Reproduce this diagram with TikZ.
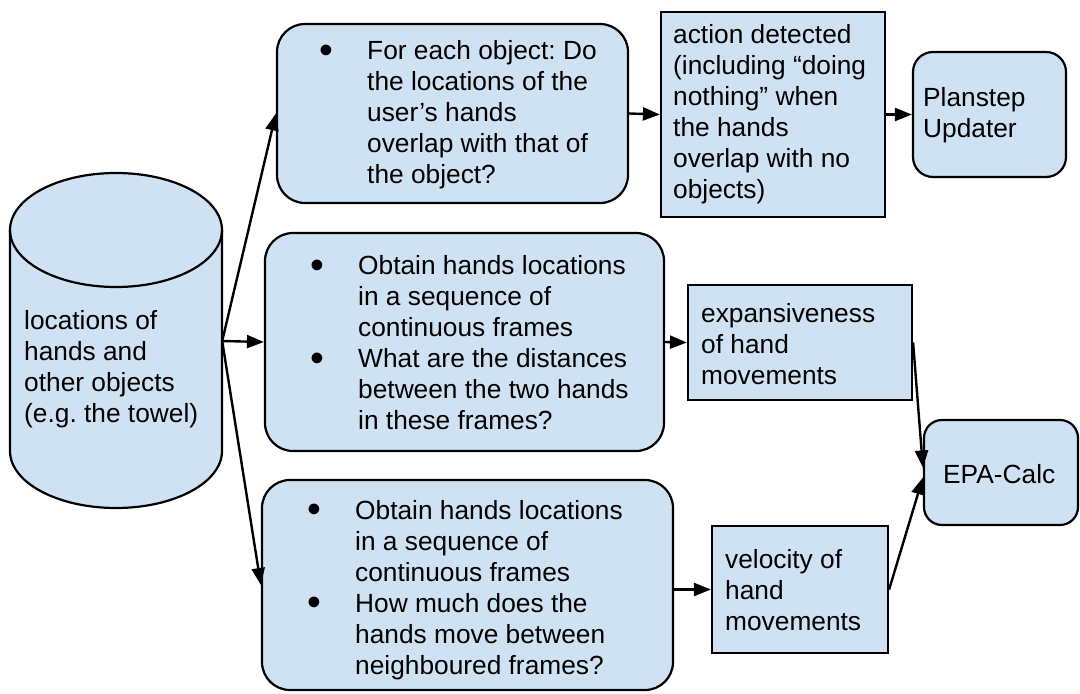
\documentclass[tikz,border=0pt]{standalone}
\usepackage{fontspec}
\setmainfont{Liberation Sans}
\usetikzlibrary{arrows.meta}
\definecolor{boxblue}{HTML}{CFE2F3}
\frenchspacing
\newcommand{\bul}{\makebox[48pt][l]{\raisebox{-3.5pt}{\scalebox{1.5}{\textbullet}}}}
\newcommand{\ind}{\hspace*{48pt}}
\begin{document}
\begin{tikzpicture}[x=1pt,y=-1pt,
  shapebox/.style={draw=black, line width=2.2pt, fill=boxblue, inner sep=0pt},
  roundbox/.style={shapebox, rounded corners=28pt},
  txt/.style={inner sep=0pt, anchor=west, align=left, font=\fontsize{26.3}{31}\selectfont},
  conn/.style={line width=2.4pt, -{Triangle[length=17pt,width=13pt]}}]
\useasboundingbox (0,0) rectangle (1080,694);
% cylinder
\fill[boxblue] (10,230) -- (10,451) arc[start angle=180, end angle=360, x radius=106pt, y radius=57pt] -- (222,230) arc[start angle=0, end angle=180, x radius=106pt, y radius=57pt] -- cycle;
\draw[line width=2.2pt] (10,230) -- (10,451) arc[start angle=180, end angle=360, x radius=106pt, y radius=57pt] -- (222,230);
\draw[line width=2.2pt] (116,230) ellipse[x radius=106pt, y radius=57pt];
\node[minimum width=212pt, minimum height=335pt, inner sep=0pt] (cyl) at (116,341) {};
\node[txt] (tcyl) at (24,369) {locations of\\hands and\\other objects\\(e.g. the towel)};
% shapes
\node[roundbox, minimum width=351pt, minimum height=179pt] (b1) at (452.5,113.5) {};
\node[shapebox, minimum width=224pt, minimum height=205pt] (b2) at (773,114.5) {};
\node[roundbox, rounded corners=20pt, minimum width=153pt, minimum height=125pt] (b3) at (989.5,114.5) {};
\node[roundbox, minimum width=399pt, minimum height=218pt] (b4) at (464.5,342) {};
\node[shapebox, minimum width=224pt, minimum height=115pt] (b5) at (800,342.5) {};
\node[roundbox, minimum width=411pt, minimum height=210pt] (b6) at (467.5,585) {};
\node[shapebox, minimum width=176pt, minimum height=127pt] (b7) at (800,589.5) {};
\node[roundbox, rounded corners=18pt, minimum width=154pt, minimum height=105pt] (b8) at (1001,472.5) {};
% texts
\node[txt] (t1) at (319,115) {\bul For each object: Do\\\ind the locations of the\\\ind user’s hands\\\ind overlap with that of\\\ind the object?};
\node[txt] (t2) at (673,114) {action detected\\(including “doing\\nothing” when\\the hands\\overlap with no\\objects)};
\node[txt] (t3) at (923,115) {Planstep\\Updater};
\node[txt] (t4) at (310,343) {\bul Obtain hands locations\\\ind in a sequence of\\\ind continuous frames\\\bul What are the distances\\\ind between the two hands\\\ind in these frames?};
\node[txt] (t5) at (701,344) {expansiveness\\of hand\\movements};
\node[txt] (t6) at (307,590) {\bul Obtain hands locations\\\ind in a sequence of\\\ind continuous frames\\\bul How much does the\\\ind hands move between\\\ind neighboured frames?};
\node[txt] (t7) at (725,590) {velocity of\\hand\\movements};
\node[txt] (t8) at (943,474) {EPA-Calc};
% connectors
\draw[conn] (cyl.east) -- (b1.west);
\draw[conn] (cyl.east) -- (b4.west);
\draw[conn] (cyl.east) -- (b6.west);
\draw[conn] (b1.east) -- (b2.west);
\draw[conn] (b2.east) -- (b3.west);
\draw[conn] (b4.east) -- (b5.west);
\draw[conn] (b6.east |- b7.west) -- (b7.west);
\draw[conn] (b5.east) -- ([yshift=5pt]b8.west);
\draw[conn] (b7.east) -- ([yshift=-5pt]b8.west);
\end{tikzpicture}
\end{document}
